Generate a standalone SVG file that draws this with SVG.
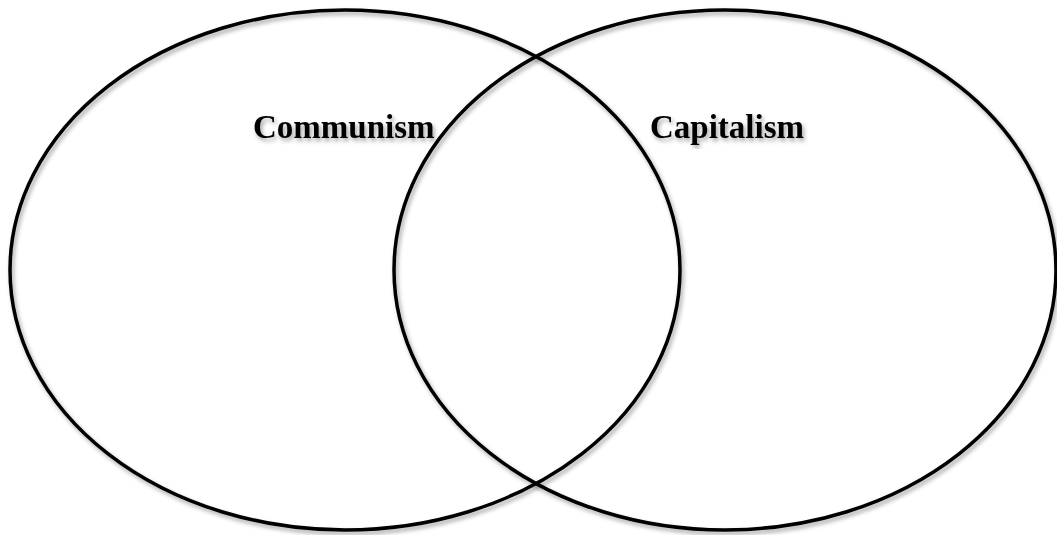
<svg xmlns="http://www.w3.org/2000/svg" width="1057" height="535" viewBox="0 0 1057 535">
<defs>
<filter id="sh" x="-10%" y="-10%" width="120%" height="120%">
<feDropShadow dx="2" dy="3" stdDeviation="2" flood-color="#000" flood-opacity="0.35"/>
</filter>
<style>
.circ{fill:none;stroke:#000;stroke-width:3.5;filter:url(#sh)}
.lbl{font-family:"Liberation Serif",serif;font-weight:bold;font-size:33px;fill:#000;filter:url(#sh)}
</style>
</defs>
<g id="communism">
<ellipse class="circ" cx="345" cy="270" rx="335" ry="260"/>
<text class="lbl" x="253" y="138">Communism</text>
</g>
<g id="capitalism">
<ellipse class="circ" cx="725" cy="270" rx="331" ry="260"/>
<text class="lbl" x="650" y="138">Capitalism</text>
</g>
<g id="connectors"/>
</svg>
